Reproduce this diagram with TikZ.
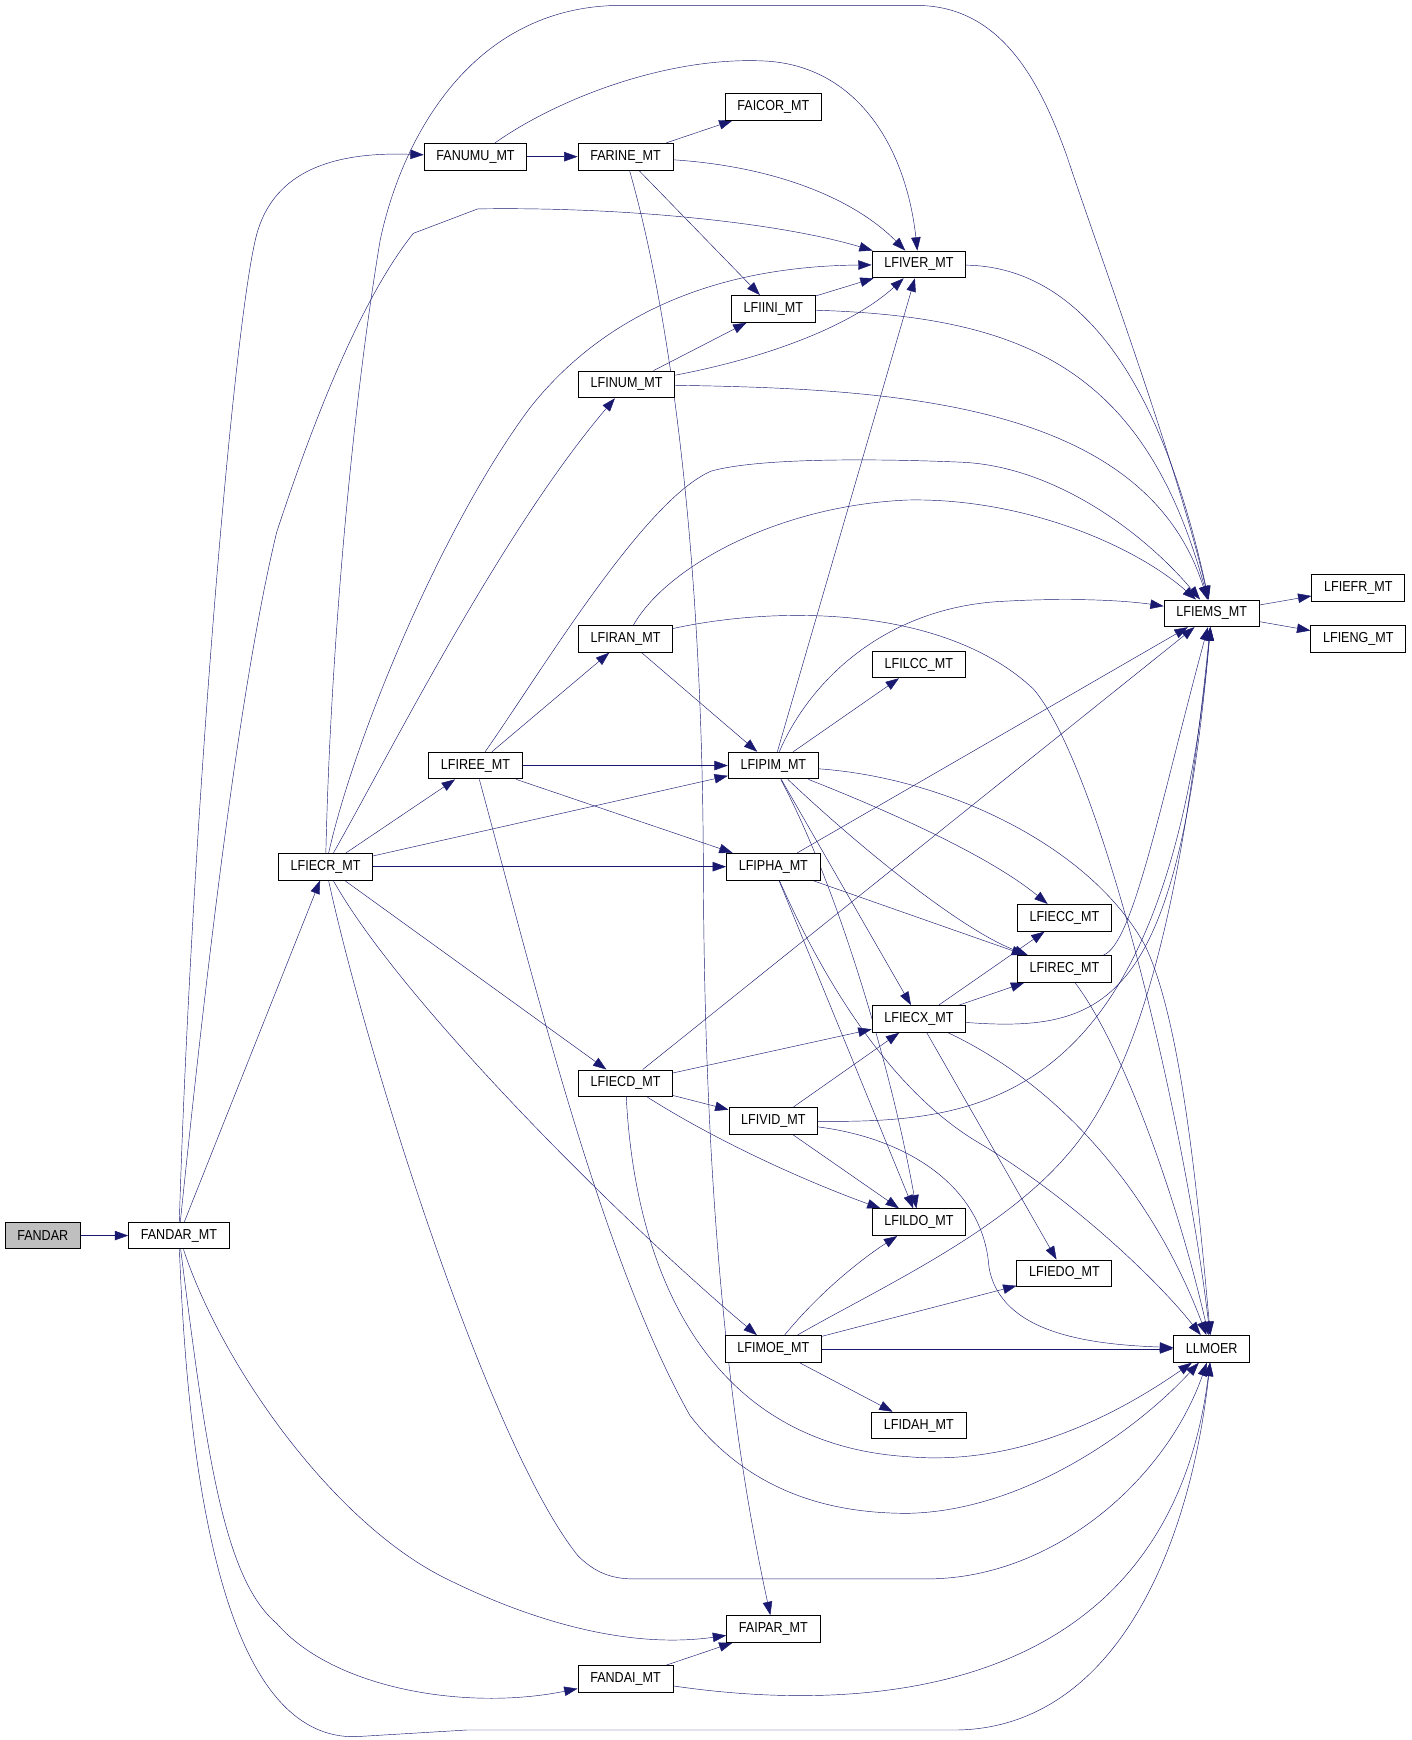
\documentclass[tikz,border=0pt]{standalone}
\usepackage{fontspec}
\usepackage{tikz}
\usetikzlibrary{
  arrows.meta,
  chains,
  scopes,
  backgrounds
}
\newfontfamily\dxfont{Liberation Sans}[FakeStretch=0.87]
\definecolor{dxblue}{RGB}{25,25,112}
\definecolor{dxgray}{RGB}{191,191,191}

\begin{document}
\begin{tikzpicture}[
      x=1pt, y=-1pt,
      fn/.style={
         rectangle,
         draw=black,
         fill=white,
         line width=0.9pt,
         minimum height=24pt,
         inner xsep=11pt,
         inner ysep=0pt,
         font=\dxfont\fontsize{13}{15}\selectfont
      },
      root/.style={fn, fill=dxgray},
      >={Triangle[length=12pt,width=8.5pt]}, line width=1pt,
      tip/.style={->, draw=dxblue},
    ]
    \useasboundingbox (0,0) rectangle (1270,1566);
    % functions, one column per call depth
    \node (FANDAR)   [root] at (38.5,1112) {FANDAR};
    \node (FANDARMT) [fn] at (161,1112)  {FANDAR\_MT};
    \node (LFIECR)   [fn] at (293,780)   {LFIECR\_MT};
    \node (FANUMU)   [fn] at (428,141)   {FANUMU\_MT};
    \node (LFIREE)   [fn] at (428,689)   {LFIREE\_MT};
    \node (FARINE)   [fn] at (563,141)   {FARINE\_MT};
    \node (LFINUM)   [fn] at (564,346)   {LFINUM\_MT};
    \node (LFIRAN)   [fn] at (563,575)   {LFIRAN\_MT};
    \node (LFIECD)   [fn] at (563,975)   {LFIECD\_MT};
    \node (FANDAI)   [fn] at (563,1511)  {FANDAI\_MT};
    \node (FAICOR)   [fn] at (696,96)    {FAICOR\_MT};
    \node (LFIINI)   [fn] at (696,278)   {LFIINI\_MT};
    \node (LFIPIM)   [fn] at (696,689)   {LFIPIM\_MT};
    \node (LFIPHA)   [fn] at (696,780)   {LFIPHA\_MT};
    \node (LFIVID)   [fn] at (696,1009)  {LFIVID\_MT};
    \node (LFIMOE)   [fn] at (696,1214)  {LFIMOE\_MT};
    \node (FAIPAR)   [fn] at (696,1466)  {FAIPAR\_MT};
    \node (LFIVER)   [fn] at (827,238)   {LFIVER\_MT};
    \node (LFILCC)   [fn] at (827,598)   {LFILCC\_MT};
    \node (LFIECX)   [fn] at (827,917)   {LFIECX\_MT};
    \node (LFILDO)   [fn] at (827,1100)  {LFILDO\_MT};
    \node (LFIDAH)   [fn] at (827,1283)  {LFIDAH\_MT};
    \node (LFIECC)   [fn] at (958,826)   {LFIECC\_MT};
    \node (LFIREC)   [fn] at (958,872)   {LFIREC\_MT};
    \node (LFIEDO)   [fn] at (958,1146)  {LFIEDO\_MT};
    \node (LFIEMS)   [fn] at (1090.5,552) {LFIEMS\_MT};
    \node (LLMOER)   [fn] at (1090.5,1214) {LLMOER};
    \node (LFIEFR)   [fn] at (1222.5,529) {LFIEFR\_MT};
    \node (LFIENG)   [fn] at (1222.5,575) {LFIENG\_MT};

  \begin{scope}[on background layer]
  % straight calls
  { [start chain]
       \chainin (FANDAR);
       \chainin (FANDARMT)  [join=by tip];
       \chainin (LFIECR)    [join=by tip];
       \chainin (LFIREE)    [join=by tip];
       \chainin (LFIRAN)    [join=by tip];
       \chainin (LFIPIM)    [join=by tip];
       \chainin (LFILCC)    [join=by tip];
  }
  { [start chain]
       \chainin (LFIECR);
       \chainin (LFIPIM)    [join=by tip];
       \chainin (LFIVER)    [join=by tip];
  }
  { [start chain]
       \chainin (LFIECR);
       \chainin (LFIPHA)    [join=by tip];
       \chainin (LFIREC)    [join=by tip];
  }
  { [start chain]
       \chainin (LFIECR);
       \chainin (LFIECD)    [join=by tip];
       \chainin (LFIECX)    [join=by tip];
       \chainin (LFIECC)    [join=by tip];
  }
  { [start chain]
       \chainin (LFIECD);
       \chainin (LFIVID)    [join=by tip];
       \chainin (LFIECX)    [join=by tip];
       \chainin (LFIREC)    [join=by tip];
  }
  { [start chain]
       \chainin (LFIPIM);
       \chainin (LFIECX)    [join=by tip];
       \chainin (LFIEDO)    [join=by tip];
  }
  { [start chain]
       \chainin (LFIREE);
       \chainin (LFIPIM)    [join=by tip];
  }
  { [start chain]
       \chainin (LFIREE);
       \chainin (LFIPHA)    [join=by tip];
       \chainin (LFIEMS)    [join=by tip];
       \chainin (LFIEFR)    [join=by tip];
  }
  { [start chain]
       \chainin (LFIEMS);
       \chainin (LFIENG)    [join=by tip];
  }
  { [start chain]
       \chainin (LFIECD);
       \chainin (LFIEMS)    [join=by tip];
  }
  { [start chain]
       \chainin (LFIVID);
       \chainin (LFILDO)    [join=by tip];
  }
  { [start chain]
       \chainin (LFIPHA);
       \chainin (LFILDO)    [join=by tip];
  }
  { [start chain]
       \chainin (FANUMU);
       \chainin (FARINE)    [join=by tip];
       \chainin (FAICOR)    [join=by tip];
  }
  { [start chain]
       \chainin (FARINE);
       \chainin (LFIINI)    [join=by tip];
       \chainin (LFIVER)    [join=by tip];
  }
  { [start chain]
       \chainin (LFINUM);
       \chainin (LFIINI)    [join=by tip];
  }
  { [start chain]
       \chainin (LFIMOE);
       \chainin (LFIEDO)    [join=by tip];
  }
  { [start chain]
       \chainin (LFIMOE);
       \chainin (LLMOER)    [join=by tip];
  }
  { [start chain]
       \chainin (LFIMOE);
       \chainin (LFIDAH)    [join=by tip];
  }
  { [start chain]
       \chainin (FANDAI);
       \chainin (FAIPAR)    [join=by tip];
  }

  % curved calls
  \draw[tip] (FANDARMT) .. controls (172,750) and (210,290) .. (231,211)
       .. controls (245,160) and (290,136) .. (FANUMU);
  \draw[tip] (FANDARMT) .. controls (185,880) and (215,620) .. (249,479)
       .. controls (275,400) and (320,275) .. (372,210) -- (430,188)
       .. controls (560,186) and (700,200) .. (LFIVER);
  \draw[tip] (FANDARMT) .. controls (200,1230) and (300,1370) .. (400,1420)
       .. controls (470,1455) and (560,1485) .. (FAIPAR);
  \draw[tip] (FANDARMT) .. controls (185,1300) and (200,1420) .. (249,1461)
       .. controls (300,1520) and (420,1540) .. (FANDAI);
  \draw[tip] (FANDARMT) .. controls (172,1400) and (220,1565) .. (320,1563)
       -- (420,1557) -- (861,1557) .. controls (1000,1555) and (1070,1400) .. (LLMOER);
  \draw[tip] (LFIECR) .. controls (297,600) and (315,380) .. (342,217)
       .. controls (360,130) and (420,10) .. (551,5) -- (830,5)
       .. controls (900,8) and (935,70) .. (960,140)
       .. controls (990,230) and (1060,420) .. (LFIEMS);
  \draw[tip] (LFIECR) .. controls (320,660) and (400,470) .. (477,367)
       .. controls (530,300) and (620,240) .. (LFIVER);
  \draw[tip] (LFIECR) .. controls (350,680) and (450,480) .. (LFINUM);
  \draw[tip] (LFIECR) .. controls (360,900) and (560,1100) .. (LFIMOE);
  \draw[tip] (LFIECR) .. controls (330,950) and (440,1300) .. (520,1400)
       .. controls (535,1415) and (550,1421) .. (570,1421) -- (836,1421)
       .. controls (950,1420) and (1050,1330) .. (LLMOER);
  \draw[tip] (FANUMU) .. controls (500,90) and (600,50) .. (690,55)
       .. controls (770,60) and (815,130) .. (LFIVER);
  \draw[tip] (FARINE) .. controls (700,150) and (770,180) .. (LFIVER);
  \draw[tip] (FARINE) .. controls (600,270) and (632,480) .. (633,780)
       .. controls (634,1100) and (660,1300) .. (FAIPAR);
  \draw[tip] (LFIINI) .. controls (920,285) and (1030,330) .. (LFIEMS);
  \draw[tip] (LFINUM) .. controls (700,320) and (770,290) .. (LFIVER);
  \draw[tip] (LFINUM) .. controls (800,350) and (1030,360) .. (LFIEMS);
  \draw[tip] (LFIVER) .. controls (960,240) and (1040,320) .. (LFIEMS);
  \draw[tip] (LFIREE) .. controls (490,600) and (580,450) .. (640,424)
       .. controls (690,410) and (820,414) .. (866,416)
       .. controls (950,420) and (1030,480) .. (LFIEMS);
  \draw[tip] (LFIREE) .. controls (480,880) and (540,1130) .. (621,1274)
       .. controls (680,1350) and (760,1362) .. (817,1362)
       .. controls (920,1360) and (1020,1290) .. (LLMOER);
  \draw[tip] (LFIRAN) .. controls (600,510) and (700,455) .. (817,450)
       .. controls (920,448) and (1020,490) .. (LFIEMS);
  \draw[tip] (LFIRAN) .. controls (700,545) and (850,545) .. (930,620)
       .. controls (990,690) and (1065,1000) .. (LLMOER);
  \draw[tip] (LFIPIM) .. controls (730,610) and (800,545) .. (906,541)
       .. controls (960,538) and (1010,540) .. (LFIEMS);
  \draw[tip] (LFIPIM) .. controls (850,700) and (980,760) .. (1030,850)
       .. controls (1065,920) and (1080,1100) .. (LLMOER);
  \draw[tip] (LFIPIM) .. controls (800,730) and (890,770) .. (LFIECC);
  \draw[tip] (LFIPIM) .. controls (760,750) and (860,835) .. (LFIREC);
  \draw[tip] (LFIPIM) .. controls (750,790) and (800,950) .. (LFILDO);
  \draw[tip] (LFIPHA) .. controls (740,880) and (800,980) .. (880,1028)
       .. controls (960,1075) and (1040,1150) .. (LLMOER);
  \draw[tip] (LFIREC) .. controls (1020,850) and (1045,720) .. (LFIEMS);
  \draw[tip] (LFIREC) .. controls (1010,940) and (1060,1080) .. (LLMOER);
  \draw[tip] (LFIECX) .. controls (1000,930) and (1060,900) .. (LFIEMS);
  \draw[tip] (LFIECX) .. controls (960,980) and (1040,1080) .. (LLMOER);
  \draw[tip] (LFIECD) .. controls (650,1030) and (730,1065) .. (LFILDO);
  \draw[tip] (LFIECD) .. controls (572,1150) and (640,1300) .. (817,1311)
       .. controls (920,1320) and (1010,1270) .. (LLMOER);
  \draw[tip] (LFIVID) .. controls (880,1010) and (1050,1000) .. (LFIEMS);
  \draw[tip] (LFIVID) .. controls (820,1025) and (885,1070) .. (890,1140)
       .. controls (900,1200) and (980,1210) .. (LLMOER);
  \draw[tip] (LFIMOE) .. controls (740,1160) and (780,1130) .. (LFILDO);
  \draw[tip] (LFIMOE) .. controls (790,1160) and (900,1110) .. (960,1040)
       .. controls (1040,950) and (1070,750) .. (LFIEMS);
  \draw[tip] (FANDAI) .. controls (760,1540) and (1050,1540) .. (LLMOER);
  \end{scope}
\end{tikzpicture}
\end{document}
